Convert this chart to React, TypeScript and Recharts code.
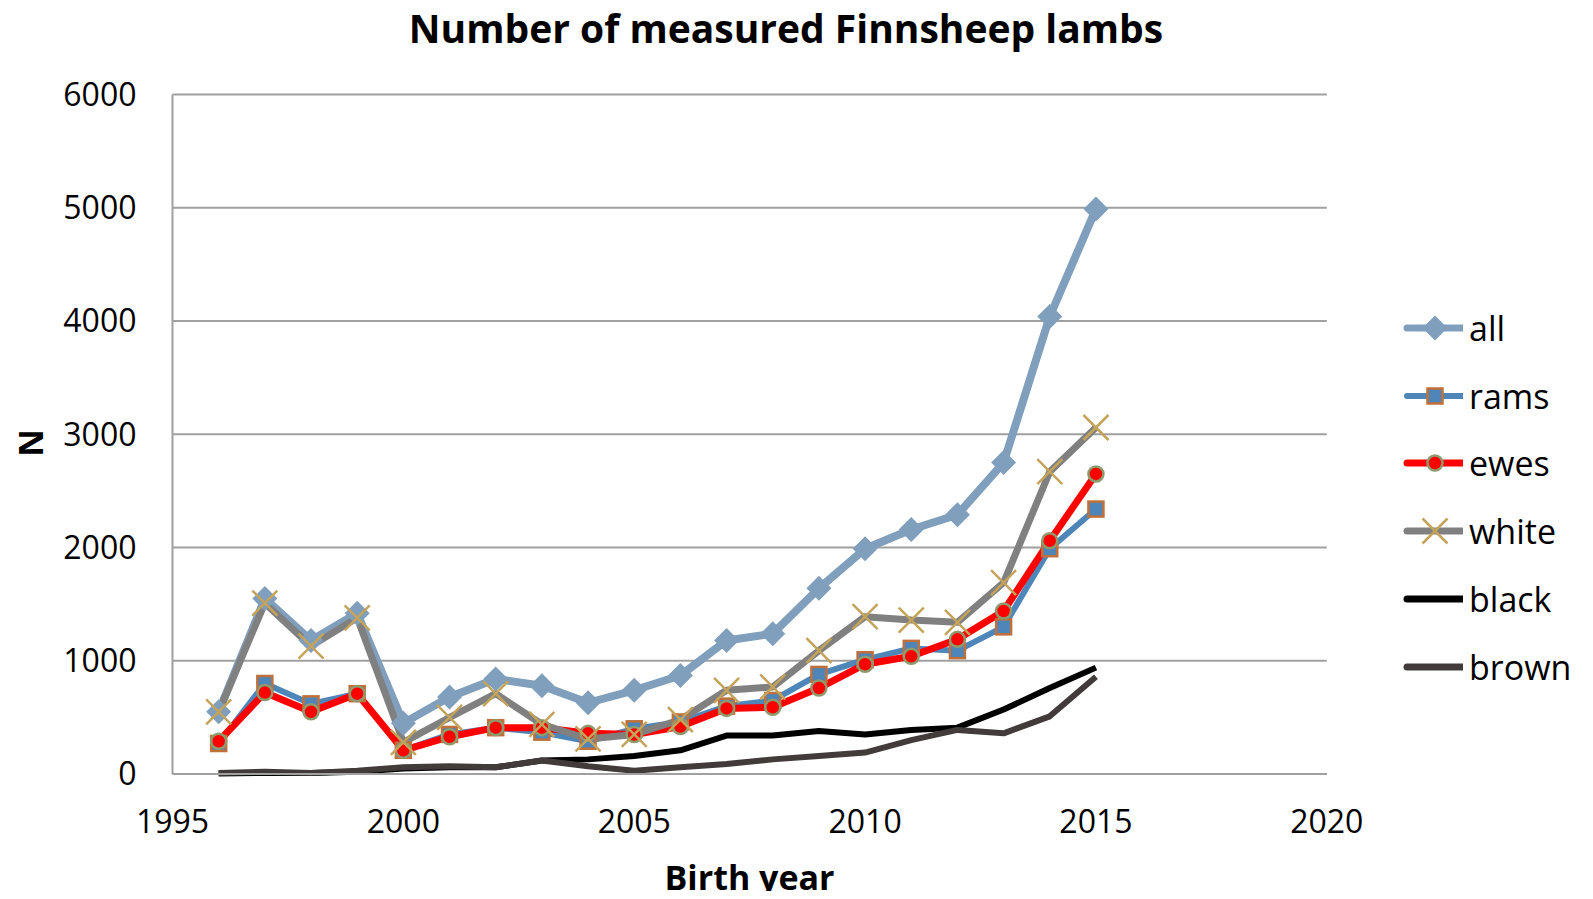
import React from 'react';
import { LineChart, Line, XAxis, YAxis, CartesianGrid } from 'recharts';

const years = [1996, 1997, 1998, 1999, 2000, 2001, 2002, 2003, 2004, 2005, 2006, 2007, 2008, 2009, 2010, 2011, 2012, 2013, 2014, 2015];
const allLambs = [550, 1550, 1180, 1420, 450, 680, 840, 780, 630, 740, 870, 1180, 1240, 1640, 1990, 2160, 2290, 2750, 4040, 4990];
const rams = [270, 800, 620, 710, 210, 350, 410, 370, 290, 400, 460, 600, 650, 880, 1010, 1110, 1090, 1300, 1990, 2340];
const ewes = [290, 720, 550, 710, 210, 330, 410, 410, 360, 350, 420, 580, 590, 760, 970, 1040, 1190, 1440, 2060, 2650];
const white = [550, 1510, 1130, 1380, 280, 500, 710, 440, 310, 350, 480, 740, 770, 1090, 1390, 1360, 1340, 1690, 2670, 3060];
const black = [5, 10, 10, 20, 50, 60, 60, 120, 130, 160, 210, 340, 340, 380, 350, 390, 410, 570, 760, 940];
const brown = [10, 20, 10, 30, 60, 70, 60, 120, 70, 30, 60, 90, 130, 160, 190, 300, 390, 360, 510, 860];

const xTicks = [1995, 2000, 2005, 2010, 2015, 2020];
const yTicks = [0, 1000, 2000, 3000, 4000, 5000, 6000];

const data = years.map((year, i) => ({
  year,
  all: allLambs[i],
  rams: rams[i],
  ewes: ewes[i],
  white: white[i],
  black: black[i],
  brown: brown[i],
}));

const FONT = '"Open Sans", "Noto Sans", sans-serif';

const C = {
  all: '#809FBC',
  rams: '#4E86B9',
  ramsEdge: '#C0703A',
  ewes: '#FF0000',
  ewesEdge: '#8E9B6E',
  white: '#808080',
  cross: '#C4A35A',
  black: '#000000',
  brown: '#423B3B',
};

// marker shapes, shared by the plot and the legend
const diamond = (cx: number, cy: number, key?: any) => (
  <path key={key} d={`M${cx},${cy - 12.5}L${cx + 12.5},${cy}L${cx},${cy + 12.5}L${cx - 12.5},${cy}Z`} fill={C.all} />
);
const square = (cx: number, cy: number, key?: any) => (
  <rect key={key} x={cx - 7.5} y={cy - 7.5} width={15} height={15} fill={C.rams} stroke={C.ramsEdge} strokeWidth={2.5} />
);
const circle = (cx: number, cy: number, key?: any) => (
  <circle key={key} cx={cx} cy={cy} r={7.5} fill={C.ewes} stroke={C.ewesEdge} strokeWidth={2.5} />
);
const cross = (cx: number, cy: number, key?: any) => (
  <path key={key} d={`M${cx - 12.5},${cy - 12.5}L${cx + 12.5},${cy + 12.5}M${cx - 12.5},${cy + 12.5}L${cx + 12.5},${cy - 12.5}`} stroke={C.cross} strokeWidth={2.5} fill="none" />
);

const dotOf = (fn: any) => (p: any) => fn(p.cx, p.cy, `d-${p.dataKey}-${p.index}`);

const legendItems = [
  { name: 'all', color: C.all, width: 7, marker: diamond },
  { name: 'rams', color: C.rams, width: 6, marker: square },
  { name: 'ewes', color: C.ewes, width: 7, marker: circle },
  { name: 'white', color: C.white, width: 7, marker: cross },
  { name: 'black', color: C.black, width: 7, marker: null },
  { name: 'brown', color: C.brown, width: 7, marker: null },
];

export default function App() {
  return (
    <div style={{ position: 'relative', width: 1577, height: 883, fontFamily: FONT, background: '#fff' }}>
      <div style={{ position: 'absolute', left: 0, width: 1556, top: -0.5, textAlign: 'center', fontSize: 39, lineHeight: 1, fontWeight: 700, color: '#000' }}>
        Number of measured Finnsheep lambs
      </div>
      <LineChart width={1577} height={883} data={data} margin={{ top: 86.5, right: 258.2, bottom: 56.9, left: 0 }}>
        <CartesianGrid vertical={false} stroke="#A0A0A0" strokeWidth={2} />
        <XAxis
          dataKey="year"
          type="number"
          domain={[1995, 2020]}
          ticks={xTicks}
          height={60}
          axisLine={{ stroke: '#A0A0A0', strokeWidth: 2 }}
          tickLine={false}
          tickSize={0}
          tickMargin={36.6}
          tick={{ fill: '#000', fontSize: 32, fontFamily: FONT }}
        />
        <YAxis
          type="number"
          domain={[0, 6000]}
          ticks={yTicks}
          width={164.5}
          axisLine={{ stroke: '#A0A0A0', strokeWidth: 2 }}
          tickLine={false}
          tickSize={0}
          tickMargin={36}
          tick={{ fill: '#000', fontSize: 32, fontFamily: FONT }}
        />
        <Line dataKey="all" stroke={C.all} strokeWidth={8} strokeLinejoin="round" dot={dotOf(diamond)} isAnimationActive={false} />
        <Line dataKey="rams" stroke={C.rams} strokeWidth={6} strokeLinejoin="round" dot={dotOf(square)} isAnimationActive={false} />
        <Line dataKey="ewes" stroke={C.ewes} strokeWidth={7} strokeLinejoin="round" dot={dotOf(circle)} isAnimationActive={false} />
        <Line dataKey="white" stroke={C.white} strokeWidth={7} strokeLinejoin="round" dot={dotOf(cross)} isAnimationActive={false} />
        <Line dataKey="black" stroke={C.black} strokeWidth={6} strokeLinejoin="round" dot={false} isAnimationActive={false} />
        <Line dataKey="brown" stroke={C.brown} strokeWidth={6} strokeLinejoin="round" dot={false} isAnimationActive={false} />
      </LineChart>
      <div style={{ position: 'absolute', left: 2, top: 415, width: 40, height: 40, display: 'flex', alignItems: 'center', justifyContent: 'center' }}>
        <div style={{ transform: 'rotate(-90deg)', fontSize: 34, fontWeight: 700, lineHeight: 1 }}>N</div>
      </div>
      <div style={{ position: 'absolute', left: 164.5, width: 1154, top: 846, textAlign: 'center', fontSize: 34, fontWeight: 700, color: '#000', lineHeight: 1.4 }}>
        Birth year
      </div>
      <div style={{ position: 'absolute', left: 1395, top: 300 }}>
        {legendItems.map((it, i) => (
          <div key={it.name} style={{ position: 'absolute', top: i * 67.7, left: 0, height: 40, display: 'flex', alignItems: 'center', whiteSpace: 'nowrap' }}>
            <svg width={60} height={40} style={{ display: 'block' }}>
              <line x1={4} y1={20} x2={60} y2={20} stroke={it.color} strokeWidth={it.width} strokeLinecap="round" />
              {it.marker ? it.marker(32, 20) : null}
            </svg>
            <span style={{ fontSize: 34, marginLeft: 6, color: '#000' }}>{it.name}</span>
          </div>
        ))}
      </div>
    </div>
  );
}
